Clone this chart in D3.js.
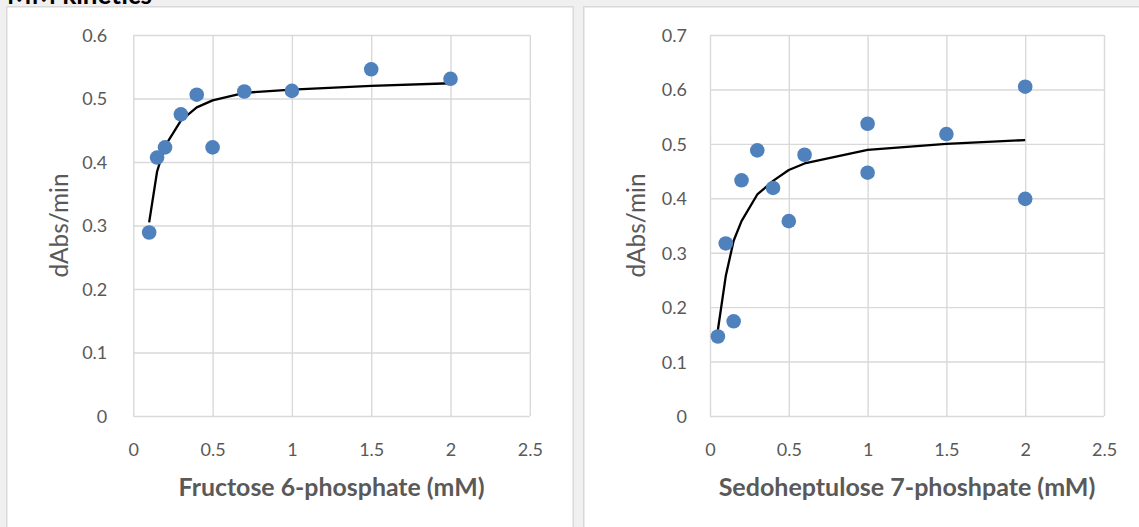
<!DOCTYPE html>
<html><head><meta charset="utf-8">
<script src="https://cdn.jsdelivr.net/npm/d3@7/dist/d3.min.js"></script>
<style>
body{margin:0;background:#f0f0f0;overflow:hidden;}
text{font-family:Lato,"Noto Sans",sans-serif;}
</style>
</head><body>
<svg id="c" width="1139" height="527"></svg>
<script>
// ---- data ----
const pageTitle = "MM kinetics";
const f6pConc = [0.1, 0.15, 0.2, 0.3, 0.4, 0.5, 0.7, 1, 1.5, 2];
const f6pRate = [0.289, 0.407, 0.423, 0.475, 0.506, 0.423, 0.511, 0.512, 0.546, 0.531];
const f6pFit  = [0.305, 0.385, 0.425, 0.465, 0.486, 0.497, 0.509, 0.514, 0.520, 0.524];
const s7pConc = [0.05, 0.1, 0.15, 0.2, 0.3, 0.4, 0.5, 0.6, 1, 1, 1.5, 2, 2];
const s7pRate = [0.146, 0.317, 0.174, 0.433, 0.488, 0.419, 0.358, 0.480, 0.537, 0.447, 0.518, 0.605, 0.399];
const s7pFitConc = [0.05, 0.1, 0.15, 0.2, 0.3, 0.4, 0.5, 0.6, 1, 1.5, 2];
const s7pFit     = [0.158, 0.257, 0.322, 0.358, 0.407, 0.432, 0.452, 0.464, 0.489, 0.500, 0.507];
const xTicks = [0, 0.5, 1, 1.5, 2, 2.5];
const yTicksF6P = [0, 0.1, 0.2, 0.3, 0.4, 0.5, 0.6];
const yTicksS7P = [0, 0.1, 0.2, 0.3, 0.4, 0.5, 0.6, 0.7];
const yTitle = "dAbs/min";
const xTitleF6P = "Fructose 6-phosphate (mM)";
const xTitleS7P = "Sedoheptulose 7-phoshpate (mM)";

const svg = d3.select("#c");
svg.append("rect").attr("width",1139).attr("height",527).attr("fill","#f0f0f0");

function fit(sel, target){
  const w = sel.node().getComputedTextLength();
  const fs = parseFloat(sel.attr("font-size"));
  sel.attr("font-size", fs*target/w);
}

// page title (cut off at top)
const t = svg.append("text").attr("x",7).attr("y",4).attr("font-size",26)
  .attr("font-weight","bold").attr("fill","#000").text(pageTitle);
fit(t,145);

function panel(opt){
  svg.append("rect").attr("x",opt.px).attr("y",6.75).attr("width",opt.pw).attr("height",600)
    .attr("fill","#fff").attr("stroke","#d9d9d9").attr("stroke-width",1.5);
  const x = d3.scaleLinear().domain([0,2.5]).range([opt.x0,opt.x1]);
  const y = d3.scaleLinear().domain([0,opt.ymax]).range([416,35]);
  const h = 416-35, w = opt.x1-opt.x0;
  const gx = svg.append("g").attr("transform",`translate(0,416)`)
    .call(d3.axisBottom(x).tickValues(xTicks).tickSize(-h).tickFormat(d=>String(d)));
  const gy = svg.append("g").attr("transform",`translate(${opt.x0},0)`)
    .call(d3.axisLeft(y).tickValues(opt.yTicks).tickSize(-w).tickFormat(d=>String(d)));
  [gx,gy].forEach(g=>{
    g.select(".domain").remove();
    g.selectAll("line").attr("stroke","#d9d9d9").attr("stroke-width",1.4);
    g.selectAll("text").attr("fill","#595959").attr("font-size",18).attr("font-family",null);
  });
  gx.selectAll("text").attr("dy",null).attr("y",40);
  gy.selectAll("text").attr("dy","0.36em").attr("x",-opt.labGap);

  const line = d3.line().x(d=>x(d[0])).y(d=>y(d[1]));
  svg.append("path").datum(opt.fitX.map((c,i)=>[c,opt.fitY[i]]))
    .attr("d",line).attr("fill","none").attr("stroke","#000").attr("stroke-width",2.3)
    .attr("stroke-linejoin","round");
  svg.append("g").selectAll("circle").data(opt.cx.map((c,i)=>[c,opt.cy[i]])).join("circle")
    .attr("cx",d=>x(d[0])).attr("cy",d=>y(d[1])).attr("r",7.3).attr("fill","#4f81bd");

  const xt = svg.append("text").attr("x",(opt.x0+opt.x1)/2).attr("y",496)
    .attr("text-anchor","middle").attr("font-size",22).attr("font-weight","bold")
    .attr("fill","#595959").text(opt.xTitle);
  fit(xt,opt.xTitleW);
  const yt = svg.append("text").attr("transform",`translate(${opt.x0-65},225.5) rotate(-90)`)
    .attr("text-anchor","middle").attr("font-size",22).attr("fill","#595959").text(yTitle);
  fit(yt,104);
}

panel({px:6.75, pw:566.5, x0:133.3, x1:529.8, ymax:0.6, yTicks:yTicksF6P, labGap:26,
  cx:f6pConc, cy:f6pRate, fitX:f6pConc, fitY:f6pFit, xTitle:xTitleF6P, xTitleW:306});
panel({px:583.75, pw:600, x0:710, x1:1104, ymax:0.7, yTicks:yTicksS7P, labGap:23,
  cx:s7pConc, cy:s7pRate, fitX:s7pFitConc, fitY:s7pFit, xTitle:xTitleS7P, xTitleW:377});
</script>
</body></html>
